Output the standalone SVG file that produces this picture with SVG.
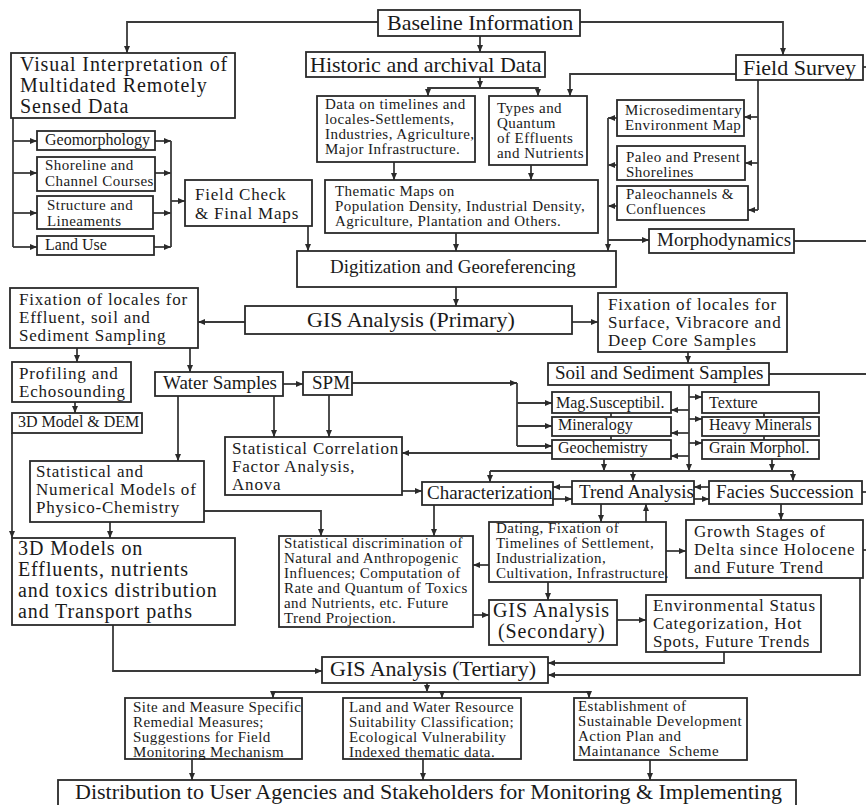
<svg xmlns="http://www.w3.org/2000/svg" width="866" height="805" viewBox="0 0 866 805">
<defs>
<marker id="ah" markerUnits="userSpaceOnUse" markerWidth="8" markerHeight="6" refX="7" refY="3" orient="auto">
<path d="M0,0 L7,3 L0,6 z" fill="#2a2a2a"/>
</marker>
<style>
.b{fill:#fff;stroke:#2a2a2a;stroke-width:1.8}
.c path{fill:none;stroke:#3a3a3a;stroke-width:1.8}
.a{marker-end:url(#ah)}
text{font-family:"Liberation Serif","Times New Roman",serif;fill:#1a1a1a}
.t22{font-size:22px}
.t19{font-size:19px}
.t16{font-size:16px}
.m20{font-size:20px;letter-spacing:.9px}
.m17{font-size:17px;letter-spacing:.8px}
.m15{font-size:15px;letter-spacing:.45px}
</style>
</defs>
<rect width="866" height="805" fill="#fff"/>
<g id="connectors" class="c">
<path d="M378,22 H127 V53" class="a"/>
<path d="M580,22 H783 V55" class="a"/>
<path d="M480,36 V52" class="a"/>
<path d="M480,77 V88" class="a"/>
<path d="M480,88 H428 V96" class="a"/>
<path d="M480,88 H538 V96" class="a"/>
<path d="M736,74 H570 V96" class="a"/>
<path d="M394,162 V180" class="a"/>
<path d="M531,165 V180" class="a"/>
<path d="M456,233 V251" class="a"/>
<path d="M308,226 V251" class="a"/>
<path d="M758,80 V210"/>
<path d="M758,117 H744" class="a"/>
<path d="M758,163 H745" class="a"/>
<path d="M758,210 H748" class="a"/>
<path d="M617,118 H608" class="a"/>
<path d="M617,165 H608" class="a"/>
<path d="M617,206 H608" class="a"/>
<path d="M608,118 V251" class="a"/>
<path d="M608,240 H649" class="a"/>
<path d="M794,241 H866"/>
<path d="M863,67 H866"/>
<path d="M13,118 V247"/>
<path d="M13,141 H37" class="a"/>
<path d="M13,173 H37" class="a"/>
<path d="M13,213 H37" class="a"/>
<path d="M13,247 H37" class="a"/>
<path d="M155,141 H171" class="a"/>
<path d="M155,173 H171" class="a"/>
<path d="M153,213 H171" class="a"/>
<path d="M154,247 H171" class="a"/>
<path d="M171,141 V247"/>
<path d="M171,201 H185" class="a"/>
<path d="M456,287 V306" class="a"/>
<path d="M245,322 H198" class="a"/>
<path d="M572,322 H598" class="a"/>
<path d="M77,348 V362" class="a"/>
<path d="M190,348 V372" class="a"/>
<path d="M75,402 V413" class="a"/>
<path d="M688,352 V363" class="a"/>
<path d="M769,374 H866"/>
<path d="M283,384 H303" class="a"/>
<path d="M178,396 V461" class="a"/>
<path d="M274,396 V437" class="a"/>
<path d="M329,395 V437" class="a"/>
<path d="M352,383 H517" class="a"/>
<path d="M517,383 V446"/>
<path d="M517,403 H552" class="a"/>
<path d="M517,426 H552" class="a"/>
<path d="M517,446 H552" class="a"/>
<path d="M552,453 H402" class="a"/>
<path d="M689,385 V471" class="a"/>
<path d="M689,410 H671" class="a"/>
<path d="M689,433 H671" class="a"/>
<path d="M689,456 H671" class="a"/>
<path d="M689,397 H702" class="a"/>
<path d="M689,419 H702" class="a"/>
<path d="M689,443 H702" class="a"/>
<path d="M611,413 V417"/>
<path d="M611,436 V440"/>
<path d="M764,413 V417"/>
<path d="M764,436 V440"/>
<path d="M604,459 V471" class="a"/>
<path d="M772,459 V471" class="a"/>
<path d="M490,471 H793"/>
<path d="M490,471 V482" class="a"/>
<path d="M633,471 V481" class="a"/>
<path d="M793,471 V481" class="a"/>
<path d="M402,491 H422" class="a"/>
<path d="M572,487 H553" class="a"/>
<path d="M553,499 H572" class="a"/>
<path d="M709,487 H694" class="a"/>
<path d="M694,499 H709" class="a"/>
<path d="M862,492 H866"/>
<path d="M204,511 H321 V536" class="a"/>
<path d="M110,522 V538" class="a"/>
<path d="M12,433 V538" class="a"/>
<path d="M434,505 V536" class="a"/>
<path d="M601,504 V522" class="a"/>
<path d="M646,522 V504" class="a"/>
<path d="M489,565 H473" class="a"/>
<path d="M666,551 H686" class="a"/>
<path d="M781,504 V520" class="a"/>
<path d="M863,550 H866"/>
<path d="M548,582 V600" class="a"/>
<path d="M473,615 H489" class="a"/>
<path d="M617,620 H646" class="a"/>
<path d="M724,652 V663 H548" class="a"/>
<path d="M860,578 V675 H548" class="a"/>
<path d="M113,625 V671 H322" class="a"/>
<path d="M427,683 V692" class="a"/>
<path d="M273,692 H589"/>
<path d="M273,692 V698" class="a"/>
<path d="M442,692 V698" class="a"/>
<path d="M589,692 V698" class="a"/>
<path d="M192,759 V780" class="a"/>
<path d="M423,759 V780" class="a"/>
<path d="M650,760 V780" class="a"/>
</g>
<g id="baseline"><rect class="b" x="378" y="10" width="202" height="26"/><text class="t22" x="387" y="30">Baseline Information</text></g>
<g id="visual"><rect class="b" x="11" y="53" width="224" height="65"/><text class="m20" x="20" y="71">Visual Interpretation of<tspan x="20" y="92">Multidated Remotely</tspan><tspan x="20" y="113">Sensed Data</tspan></text></g>
<g id="historic"><rect class="b" x="306" y="52" width="239" height="25"/><text class="t22" x="310" y="72">Historic and archival Data</text></g>
<g id="fieldsurvey"><rect class="b" x="736" y="55" width="127" height="25"/><text class="t22" x="743" y="75">Field Survey</text></g>
<g id="geomorphology"><rect class="b" x="37" y="131" width="118" height="19"/><text class="t16" x="45" y="145">Geomorphology</text></g>
<g id="shoreline"><rect class="b" x="37" y="157" width="118" height="34"/><text class="m15" x="45" y="170">Shoreline and<tspan x="45" y="186">Channel Courses</tspan></text></g>
<g id="structure"><rect class="b" x="37" y="196" width="116" height="33"/><text class="m15" x="47" y="210">Structure and<tspan x="47" y="226">Lineaments</tspan></text></g>
<g id="landuse"><rect class="b" x="37" y="236" width="117" height="19"/><text class="t16" x="45" y="250">Land Use</text></g>
<g id="fieldcheck"><rect class="b" x="185" y="180" width="127" height="46"/><text class="m17" x="195" y="200">Field Check<tspan x="195" y="219">&amp; Final Maps</tspan></text></g>
<g id="datatimelines"><rect class="b" x="317" y="96" width="158" height="66"/><text class="m15" x="325" y="109">Data on timelines and<tspan x="325" y="124">locales-Settlements,</tspan><tspan x="325" y="139">Industries, Agriculture,</tspan><tspan x="325" y="154">Major Infrastructure.</tspan></text></g>
<g id="types"><rect class="b" x="489" y="96" width="98" height="69"/><text class="m15" x="497" y="113">Types and<tspan x="497" y="128">Quantum</tspan><tspan x="497" y="143">of Effluents</tspan><tspan x="497" y="158">and Nutrients</tspan></text></g>
<g id="thematic"><rect class="b" x="325" y="180" width="273" height="53"/><text class="m15" x="335" y="196">Thematic Maps on<tspan x="335" y="211">Population Density, Industrial Density,</tspan><tspan x="335" y="226">Agriculture, Plantation and Others.</tspan></text></g>
<g id="microsed"><rect class="b" x="617" y="100" width="127" height="36"/><text class="m15" x="625" y="115">Microsedimentary<tspan x="625" y="130">Environment Map</tspan></text></g>
<g id="paleo"><rect class="b" x="617" y="146" width="128" height="34"/><text class="m15" x="626" y="162">Paleo and Present<tspan x="626" y="177">Shorelines</tspan></text></g>
<g id="paleochannels"><rect class="b" x="617" y="186" width="131" height="34"/><text class="m15" x="626" y="199">Paleochannels &amp;<tspan x="626" y="214">Confluences</tspan></text></g>
<g id="morpho"><rect class="b" x="649" y="229" width="145" height="24"/><text class="t19" x="657" y="246">Morphodynamics</text></g>
<g id="digitization"><rect class="b" x="297" y="251" width="319" height="36"/><text class="t19" x="330" y="273">Digitization and Georeferencing</text></g>
<g id="gisprimary"><rect class="b" x="245" y="306" width="327" height="28"/><text class="t22" x="307" y="327">GIS Analysis (Primary)</text></g>
<g id="fixlocales"><rect class="b" x="10" y="288" width="188" height="60"/><text class="m17" x="19" y="305">Fixation of locales for<tspan x="19" y="323">Effluent, soil and</tspan><tspan x="19" y="341">Sediment Sampling</tspan></text></g>
<g id="fixsurface"><rect class="b" x="598" y="293" width="189" height="59"/><text class="m17" x="608" y="310">Fixation of locales for<tspan x="608" y="328">Surface, Vibracore and</tspan><tspan x="608" y="346">Deep Core Samples</tspan></text></g>
<g id="profiling"><rect class="b" x="12" y="362" width="119" height="40"/><text class="m17" x="19" y="379">Profiling and<tspan x="19" y="397">Echosounding</tspan></text></g>
<g id="water"><rect class="b" x="155" y="372" width="128" height="24"/><text class="t19" x="163" y="389">Water Samples</text></g>
<g id="spm"><rect class="b" x="303" y="372" width="49" height="23"/><text class="t19" x="312" y="389">SPM</text></g>
<g id="soil"><rect class="b" x="548" y="363" width="221" height="22"/><text class="t19" x="555" y="379">Soil and Sediment Samples</text></g>
<g id="mag"><rect class="b" x="552" y="392" width="119" height="21"/><text class="t16" x="556" y="408">Mag.Susceptibil.</text></g>
<g id="mineralogy"><rect class="b" x="552" y="417" width="119" height="19"/><text class="t16" x="558" y="430">Mineralogy</text></g>
<g id="geochem"><rect class="b" x="552" y="440" width="119" height="19"/><text class="t16" x="558" y="453">Geochemistry</text></g>
<g id="texture"><rect class="b" x="702" y="392" width="117" height="21"/><text class="t16" x="709" y="408">Texture</text></g>
<g id="heavy"><rect class="b" x="702" y="417" width="117" height="19"/><text class="t16" x="709" y="430">Heavy Minerals</text></g>
<g id="grain"><rect class="b" x="702" y="440" width="117" height="19"/><text class="t16" x="709" y="453">Grain Morphol.</text></g>
<g id="dem"><rect class="b" x="12" y="413" width="130" height="20"/><text class="t16" x="18" y="427">3D Model &amp; DEM</text></g>
<g id="statcorr"><rect class="b" x="225" y="437" width="177" height="58"/><text class="m17" x="232" y="454">Statistical Correlation<tspan x="232" y="472">Factor Analysis,</tspan><tspan x="232" y="490">Anova</tspan></text></g>
<g id="statnum"><rect class="b" x="30" y="461" width="174" height="61"/><text class="m17" x="36" y="477">Statistical and<tspan x="36" y="495">Numerical Models of</tspan><tspan x="36" y="513">Physico-Chemistry</tspan></text></g>
<g id="models3d"><rect class="b" x="12" y="538" width="223" height="87"/><text class="m20" x="18" y="555">3D Models on<tspan x="18" y="576">Effluents, nutrients</tspan><tspan x="18" y="597">and toxics distribution</tspan><tspan x="18" y="618">and Transport paths</tspan></text></g>
<g id="characterization"><rect class="b" x="422" y="482" width="131" height="23"/><text class="t19" x="427" y="499">Characterization</text></g>
<g id="trend"><rect class="b" x="572" y="481" width="122" height="23"/><text class="t19" x="579" y="498">Trend Analysis</text></g>
<g id="facies"><rect class="b" x="709" y="481" width="153" height="23"/><text class="t19" x="716" y="498">Facies Succession</text></g>
<g id="statdisc"><rect class="b" x="279" y="536" width="194" height="91"/><text class="m15" x="284" y="548">Statistical discrimination of<tspan x="284" y="563">Natural and Anthropogenic</tspan><tspan x="284" y="578">Influences; Computation of</tspan><tspan x="284" y="593">Rate and Quantum of Toxics</tspan><tspan x="284" y="608">and Nutrients, etc. Future</tspan><tspan x="284" y="623">Trend Projection.</tspan></text></g>
<g id="dating"><rect class="b" x="489" y="522" width="177" height="60"/><text class="m15" x="496" y="533">Dating, Fixation of<tspan x="496" y="548">Timelines of Settlement,</tspan><tspan x="496" y="563">Industrialization,</tspan><tspan x="496" y="578">Cultivation, Infrastructure.</tspan></text></g>
<g id="growth"><rect class="b" x="686" y="520" width="177" height="58"/><text class="m17" x="694" y="537">Growth Stages of<tspan x="694" y="555">Delta since Holocene</tspan><tspan x="694" y="573">and Future Trend</tspan></text></g>
<g id="gissecondary"><rect class="b" x="489" y="600" width="128" height="45"/><text class="m20" x="493" y="617">GIS Analysis<tspan x="498" y="638">(Secondary)</tspan></text></g>
<g id="envstatus"><rect class="b" x="646" y="595" width="175" height="57"/><text class="m17" x="653" y="611">Environmental Status<tspan x="653" y="629">Categorization, Hot</tspan><tspan x="653" y="647">Spots, Future Trends</tspan></text></g>
<g id="gistertiary"><rect class="b" x="322" y="657" width="226" height="26"/><text class="t22" x="330" y="676">GIS Analysis (Tertiary)</text></g>
<g id="site"><rect class="b" x="125" y="698" width="177" height="61"/><text class="m15" x="133" y="712">Site and Measure Specific<tspan x="133" y="727">Remedial Measures;</tspan><tspan x="133" y="742">Suggestions for Field</tspan><tspan x="133" y="757">Monitoring Mechanism</tspan></text></g>
<g id="landwater"><rect class="b" x="343" y="698" width="178" height="61"/><text class="m15" x="349" y="712">Land and Water Resource<tspan x="349" y="727">Suitability Classification;</tspan><tspan x="349" y="742">Ecological Vulnerability</tspan><tspan x="349" y="757">Indexed thematic data.</tspan></text></g>
<g id="establishment"><rect class="b" x="574" y="698" width="173" height="62"/><text class="m15" x="578" y="711" xml:space="preserve">Establishment of<tspan x="578" y="726">Sustainable Development</tspan><tspan x="578" y="741">Action Plan and</tspan><tspan x="578" y="756">Maintanance  Scheme</tspan></text></g>
<g id="distribution"><rect class="b" x="58" y="780" width="738" height="30"/><text class="t22" x="75" y="799">Distribution to User Agencies and Stakeholders for Monitoring &amp; Implementing</text></g>
</svg>
